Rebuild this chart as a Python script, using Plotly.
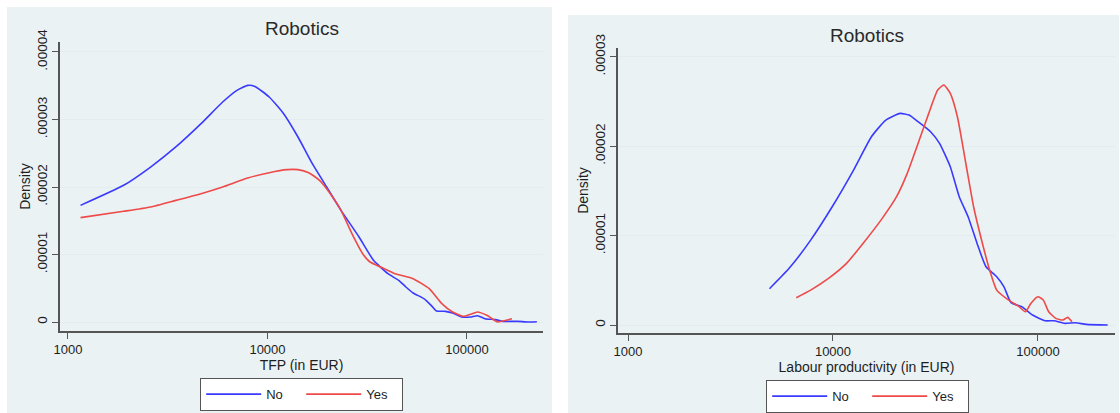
import plotly.graph_objects as go

# ---------------- data ----------------
# Left panel: TFP (in EUR)
tfp_no_x = [1156, 1901, 2594, 3472, 4645, 5960, 7030, 7960, 8650, 10200, 12050, 14220, 16780,
            19800, 23370, 28770, 34000, 40150, 45500, 49400, 53700, 60800, 66100, 70300, 78000,
            84700, 94000, 104000, 113000, 123000, 139000, 151000, 179000, 202000, 224000]
tfp_no_y = [1.728e-5, 2.025e-5, 2.296e-5, 2.593e-5, 2.938e-5, 3.259e-5, 3.432e-5, 3.506e-5, 3.49e-5,
            3.333e-5, 3.086e-5, 2.741e-5, 2.346e-5, 2.0e-5, 1.654e-5, 1.259e-5, 0.914e-5, 0.716e-5,
            0.617e-5, 0.519e-5, 0.43e-5, 0.346e-5, 0.247e-5, 0.163e-5, 0.158e-5, 0.133e-5, 0.074e-5,
            0.074e-5, 0.094e-5, 0.049e-5, 0.035e-5, 0.01e-5, 0.01e-5, 0.0, 0.005e-5]

tfp_yes_x = [1156, 1901, 2594, 3472, 4645, 5960, 7960, 10200, 12540, 14220, 16100, 18240, 20650,
             23370, 26500, 30000, 32650, 36970, 43650, 53700, 64700, 74800, 84700, 95900, 104000,
             113000, 125700, 142300, 151000, 168000]
tfp_yes_y = [1.546e-5, 1.640e-5, 1.704e-5, 1.802e-5, 1.901e-5, 2.0e-5, 2.133e-5, 2.212e-5, 2.257e-5,
             2.257e-5, 2.212e-5, 2.099e-5, 1.901e-5, 1.654e-5, 1.309e-5, 1.012e-5, 0.889e-5, 0.815e-5,
             0.716e-5, 0.642e-5, 0.494e-5, 0.272e-5, 0.148e-5, 0.084e-5, 0.114e-5, 0.148e-5, 0.099e-5,
             0.0, 0.015e-5, 0.049e-5]

# Right panel: Labour productivity (in EUR)
lp_no_x = [4900, 6110, 7780, 9910, 12600, 15400, 18100, 21270, 23500, 26000, 29930, 33100, 37350,
           41300, 45630, 50470, 55800, 62950, 68200, 73940, 83450, 94100, 108400, 119900, 135300,
           152500, 172200, 219000]
lp_no_y = [0.406e-5, 0.634e-5, 0.950e-5, 1.323e-5, 1.733e-5, 2.106e-5, 2.292e-5, 2.367e-5, 2.348e-5,
           2.274e-5, 2.162e-5, 2.031e-5, 1.770e-5, 1.435e-5, 1.211e-5, 0.913e-5, 0.652e-5, 0.540e-5,
           0.429e-5, 0.250e-5, 0.205e-5, 0.112e-5, 0.048e-5, 0.048e-5, 0.019e-5, 0.026e-5, 0.007e-5, 0.0]

lp_yes_x = [6620, 7780, 9510, 11640, 14230, 17390, 20420, 23030, 26000, 29320, 32420, 34730, 37350,
            40460, 44770, 48530, 52580, 58100, 62950, 71100, 80200, 86900, 92300, 100000, 106200,
            112800, 122200, 132400, 139600, 146600]
lp_yes_y = [0.306e-5, 0.391e-5, 0.522e-5, 0.690e-5, 0.932e-5, 1.193e-5, 1.435e-5, 1.696e-5, 2.031e-5,
            2.367e-5, 2.628e-5, 2.684e-5, 2.590e-5, 2.329e-5, 1.770e-5, 1.323e-5, 0.988e-5, 0.615e-5,
            0.391e-5, 0.287e-5, 0.212e-5, 0.149e-5, 0.242e-5, 0.317e-5, 0.280e-5, 0.149e-5, 0.075e-5,
            0.056e-5, 0.086e-5, 0.037e-5]

series_names = ["No", "Yes"]
panel_titles = ["Robotics", "Robotics"]
x_titles = ["TFP (in EUR)", "Labour productivity (in EUR)"]
y_title = "Density"
x_tickvals = [1000, 10000, 100000]
x_ticktext = ["1000", "10000", "100000"]
y1_tickvals = [0, 1e-5, 2e-5, 3e-5, 4e-5]
y1_ticktext = ["0", ".00001", ".00002", ".00003", ".00004"]
y2_tickvals = [0, 1e-5, 2e-5, 3e-5]
y2_ticktext = ["0", ".00001", ".00002", ".00003"]

# ---------------- styling ----------------
W, H = 1120, 413
BLUE = "#3a3aff"
RED = "#ee4a4a"
PANEL_BG = "#eaf2f3"
GRID = "#e3ecee"
AXIS = "#555555"
TXT = "#1e1e1e"
FONT = "Liberation Sans, Arial, sans-serif"

def px(x):
    return x / W

def py(y):
    return 1 - y / H

fig = go.Figure()

line_w = 1.6
fig.add_trace(go.Scatter(x=tfp_no_x, y=tfp_no_y, mode="lines", name=series_names[0],
                         line=dict(color=BLUE, width=line_w, shape="spline", smoothing=0.5),
                         xaxis="x", yaxis="y", legend="legend"))
fig.add_trace(go.Scatter(x=tfp_yes_x, y=tfp_yes_y, mode="lines", name=series_names[1],
                         line=dict(color=RED, width=line_w, shape="spline", smoothing=0.5),
                         xaxis="x", yaxis="y", legend="legend"))
fig.add_trace(go.Scatter(x=lp_no_x, y=lp_no_y, mode="lines", name=series_names[0],
                         line=dict(color=BLUE, width=line_w, shape="spline", smoothing=0.5),
                         xaxis="x2", yaxis="y2", legend="legend2"))
fig.add_trace(go.Scatter(x=lp_yes_x, y=lp_yes_y, mode="lines", name=series_names[1],
                         line=dict(color=RED, width=line_w, shape="spline", smoothing=0.5),
                         xaxis="x2", yaxis="y2", legend="legend2"))

common_x = dict(type="log", tickvals=x_tickvals, ticktext=x_ticktext, ticks="outside", ticklen=6,
                tickcolor=AXIS, tickwidth=1.2, showline=True, linecolor=AXIS, linewidth=1.5,
                showgrid=False, zeroline=False, automargin=False,
                tickfont=dict(size=13, color=TXT, family=FONT))
common_y = dict(ticks="outside", ticklen=6, tickcolor=AXIS, tickwidth=1.2, tickangle=-90,
                showline=True, linecolor=AXIS, linewidth=1.5, showgrid=True, gridcolor=GRID,
                gridwidth=1.2, zeroline=False, automargin=False,
                tickfont=dict(size=13.5, color=TXT, family=FONT))

legend_common = dict(orientation="h", xanchor="center", yanchor="top", bgcolor="white",
                     bordercolor=AXIS, borderwidth=1.2, font=dict(size=13, color=TXT),
                     itemwidth=55, entrywidth=30, entrywidthmode="pixels")

fig.update_layout(
    width=W, height=H,
    margin=dict(l=0, r=0, t=0, b=0, autoexpand=False),
    paper_bgcolor="white", plot_bgcolor="white",
    font=dict(family=FONT, color=TXT),
    xaxis=dict(domain=[px(60), px(543)], range=[2.960, 5.381], anchor="y",
               title=dict(text=x_titles[0], font=dict(size=14), standoff=2), **common_x),
    yaxis=dict(domain=[py(331), py(42)], range=[-0.133e-5, 4.148e-5], anchor="x",
               tickvals=y1_tickvals, ticktext=y1_ticktext,
               title=dict(text=y_title, font=dict(size=14), standoff=1), **common_y),
    xaxis2=dict(domain=[px(618), px(1115)], range=[2.951, 5.376], anchor="y2",
                title=dict(text=x_titles[1], font=dict(size=14), standoff=2), **common_x),
    yaxis2=dict(domain=[py(333), py(48)], range=[-0.089e-5, 3.098e-5], anchor="x2",
                tickvals=y2_tickvals, ticktext=y2_ticktext,
                title=dict(text=y_title, font=dict(size=14), standoff=1), **common_y),
    legend=dict(x=px(301.5), y=py(378), **legend_common),
    legend2=dict(x=px(867.5), y=py(380), **legend_common),
    showlegend=True,
    shapes=[
        dict(type="rect", xref="paper", yref="paper", x0=px(7), x1=px(552), y0=0, y1=py(7),
             fillcolor=PANEL_BG, line=dict(width=0), layer="below"),
        dict(type="rect", xref="paper", yref="paper", x0=px(568), x1=px(1119), y0=0, y1=py(15),
             fillcolor=PANEL_BG, line=dict(width=0), layer="below"),
    ],
    annotations=[
        dict(text=panel_titles[0], x=px(301.5), y=py(29), xref="paper", yref="paper",
             xanchor="center", yanchor="middle", showarrow=False, font=dict(size=19, color="#2a2a2a")),
        dict(text=panel_titles[1], x=px(867), y=py(35), xref="paper", yref="paper",
             xanchor="center", yanchor="middle", showarrow=False, font=dict(size=19, color="#2a2a2a")),
    ],
)

# remove the default page margin so the figure sits at the window's top-left corner
page_fix = ("document.body.style.margin='0';document.body.style.padding='0';"
            "document.documentElement.style.overflow='hidden';")

fig.write_html("out.html", post_script=page_fix, config={"displayModeBar": False})
